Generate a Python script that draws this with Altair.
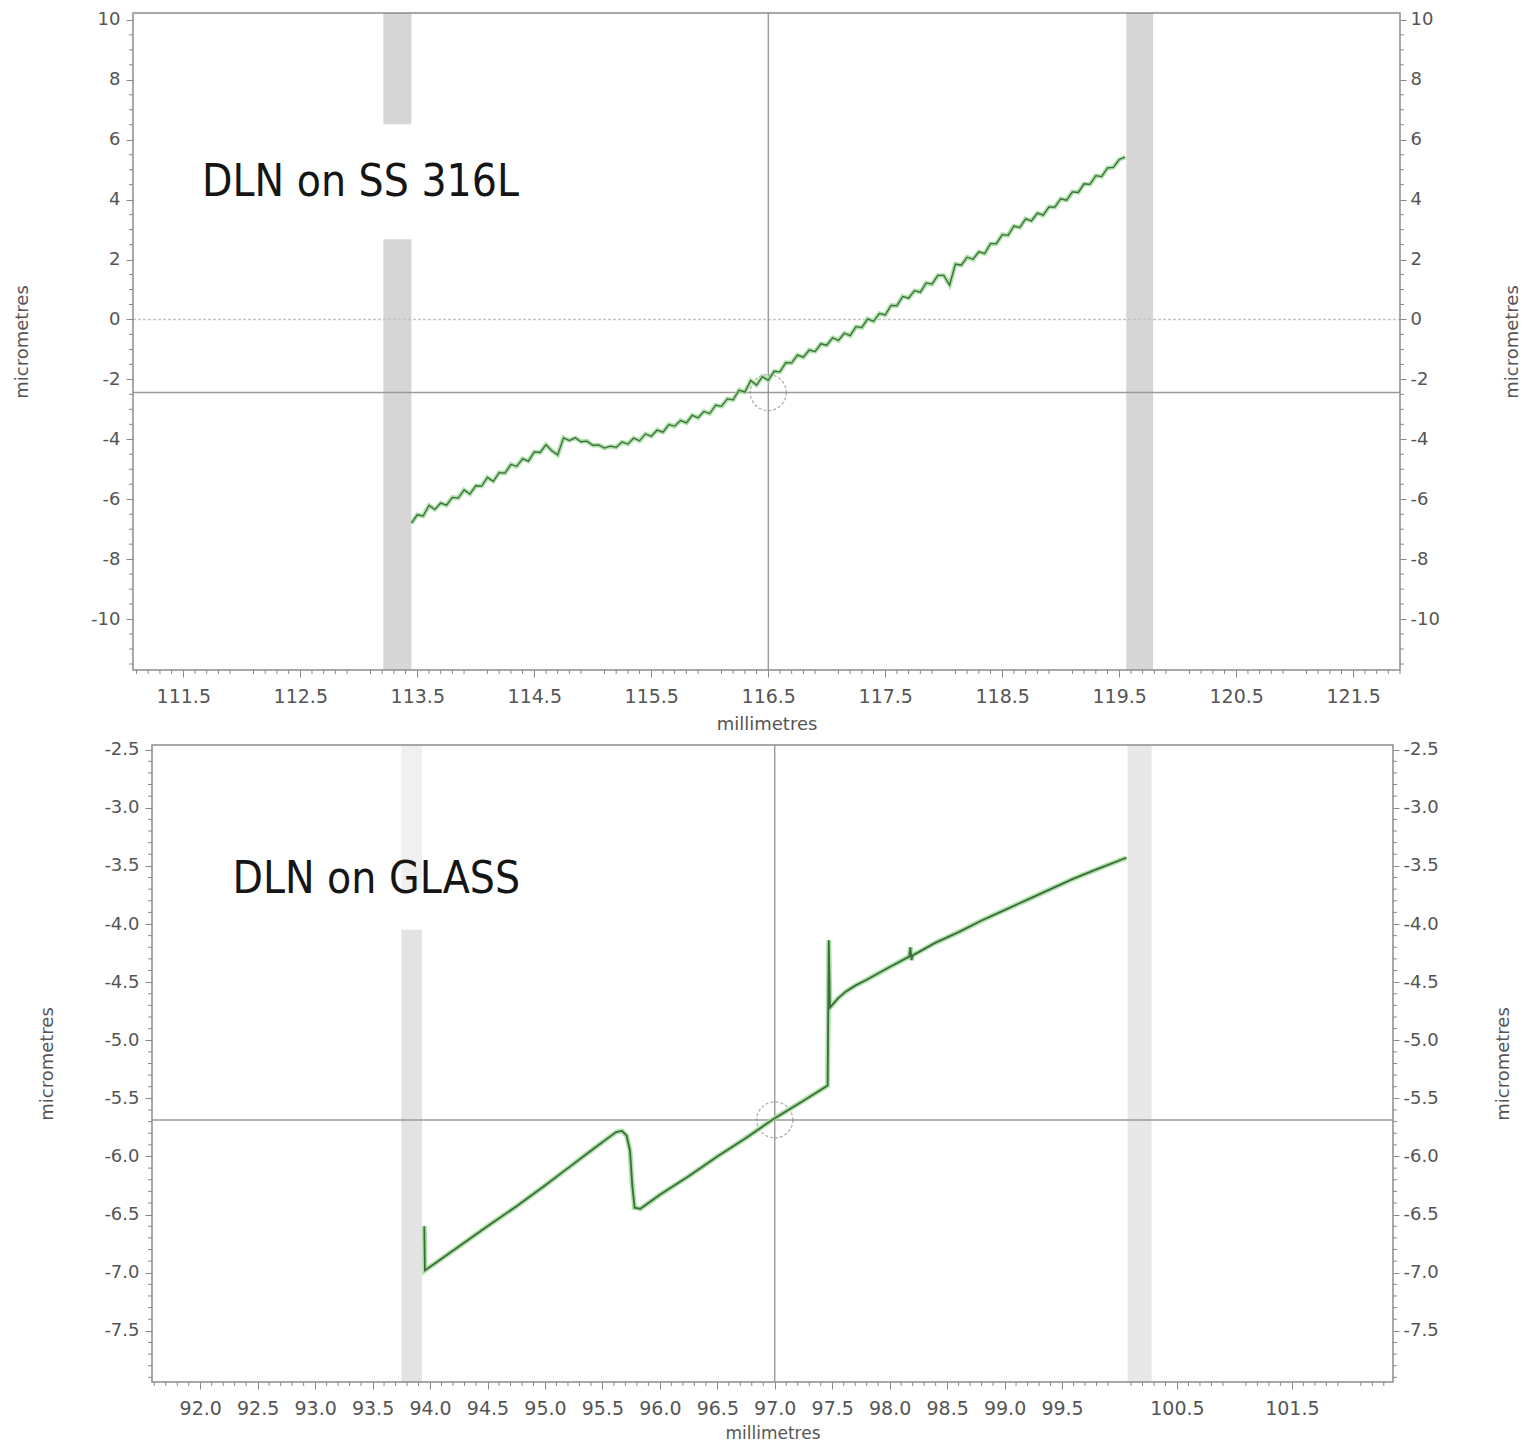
import altair as alt
import pandas as pd
import numpy as np

# ---------------- data ----------------
# Top panel: DLN on SS 316L (profile, micrometres vs millimetres)
TOP_X = [113.45, 113.50, 113.55, 113.60, 113.65, 113.70, 113.75, 113.80, 113.85, 113.90, 113.95,
         114.00, 114.05, 114.10, 114.15, 114.20, 114.25, 114.30, 114.35, 114.40, 114.45,
         114.50, 114.55, 114.60, 114.65, 114.70, 114.75, 114.80, 114.85, 114.90, 114.95,
         115.00, 115.05, 115.10, 115.15, 115.20, 115.25, 115.30, 115.35, 115.40, 115.45,
         115.50, 115.55, 115.60, 115.65, 115.70, 115.75, 115.80, 115.85, 115.90, 115.95,
         116.00, 116.05, 116.10, 116.15, 116.20, 116.25, 116.30, 116.35, 116.40, 116.45,
         116.50, 116.55, 116.60, 116.65, 116.70, 116.75, 116.80, 116.85, 116.90, 116.95,
         117.00, 117.05, 117.10, 117.15, 117.20, 117.25, 117.30, 117.35, 117.40, 117.45,
         117.50, 117.55, 117.60, 117.65, 117.70, 117.75, 117.80, 117.85, 117.90, 117.95,
         118.00, 118.05, 118.10, 118.15, 118.20, 118.25, 118.30, 118.35, 118.40, 118.45,
         118.50, 118.55, 118.60, 118.65, 118.70, 118.75, 118.80, 118.85, 118.90, 118.95,
         119.00, 119.05, 119.10, 119.15, 119.20, 119.25, 119.30, 119.35, 119.40, 119.45,
         119.50, 119.55]
TOP_Y = [-6.80, -6.52, -6.56, -6.21, -6.34, -6.13, -6.20, -5.94, -5.96, -5.69, -5.83,
         -5.55, -5.56, -5.27, -5.40, -5.11, -5.13, -4.84, -4.90, -4.65, -4.73,
         -4.42, -4.44, -4.18, -4.38, -4.52, -3.95, -4.04, -3.95, -4.08, -4.06,
         -4.20, -4.19, -4.29, -4.23, -4.27, -4.09, -4.16, -3.96, -4.05, -3.82,
         -3.90, -3.69, -3.76, -3.51, -3.56, -3.37, -3.45, -3.20, -3.28, -3.07,
         -3.14, -2.86, -2.90, -2.65, -2.68, -2.36, -2.42, -2.04, -2.19, -1.91,
         -2.03, -1.73, -1.75, -1.44, -1.45, -1.19, -1.26, -1.02, -1.07, -0.81,
         -0.86, -0.61, -0.70, -0.46, -0.54, -0.24, -0.27, 0.02, -0.06, 0.20,
         0.15, 0.47, 0.46, 0.77, 0.71, 0.96, 0.91, 1.22, 1.18, 1.47,
         1.47, 1.15, 1.85, 1.81, 2.08, 2.01, 2.26, 2.20, 2.53, 2.53,
         2.83, 2.81, 3.12, 3.07, 3.36, 3.29, 3.55, 3.48, 3.76, 3.75,
         4.03, 3.98, 4.26, 4.24, 4.53, 4.51, 4.80, 4.77, 5.06, 5.08,
         5.34, 5.42]

# Bottom panel: DLN on GLASS
BOT_X = [93.95, 93.955, 94.10, 94.30, 94.50, 94.75, 95.00, 95.20, 95.40, 95.55,
         95.62, 95.67, 95.71, 95.74, 95.76, 95.78, 95.83, 96.00, 96.25, 96.50,
         96.75, 97.00, 97.25, 97.46, 97.47, 97.48, 97.55, 97.62, 97.70, 97.80,
         98.00, 98.17, 98.18, 98.19, 98.20, 98.40, 98.60, 98.80, 99.00, 99.20,
         99.40, 99.60, 99.80, 100.06]
BOT_Y = [-6.60, -6.98, -6.88, -6.74, -6.60, -6.43, -6.25, -6.10, -5.95, -5.84,
         -5.79, -5.78, -5.82, -5.95, -6.25, -6.44, -6.45, -6.33, -6.17, -6.00,
         -5.84, -5.67, -5.52, -5.39, -4.14, -4.72, -4.64, -4.58, -4.53, -4.48,
         -4.37, -4.28, -4.20, -4.31, -4.27, -4.16, -4.07, -3.97, -3.88, -3.79,
         -3.70, -3.61, -3.53, -3.43]

# axis tick labels
TOP_XTICKS = [111.5, 112.5, 113.5, 114.5, 115.5, 116.5, 117.5, 118.5, 119.5, 120.5, 121.5]
TOP_YTICKS = [-10, -8, -6, -4, -2, 0, 2, 4, 6, 8, 10]
BOT_XTICKS = [92.0, 92.5, 93.0, 93.5, 94.0, 94.5, 95.0, 95.5, 96.0, 96.5, 97.0, 97.5,
              98.0, 98.5, 99.0, 99.5, 100.5, 101.5]
BOT_YTICKS = [-7.5, -7.0, -6.5, -6.0, -5.5, -5.0, -4.5, -4.0, -3.5, -3.0, -2.5]

# scale domains (bottom x domain starts left of its frame: its frame is inset)
TOP_XDOM = [111.07, 121.9]
TOP_YDOM = [-11.7, 10.23]
BOT_XDOM = [91.415, 102.38]
BOT_YDOM = [-7.94, -2.46]

# hatched marker bands
TOP_BAND_X0 = [113.21, 113.21, 119.56]
TOP_BAND_X1 = [113.45, 113.45, 119.79]
TOP_BAND_Y0 = [-11.7, 6.52, -11.7]
TOP_BAND_Y1 = [2.68, 10.23, 10.23]
TOP_BAND_SHADE = ["#d6d6d6", "#d6d6d6", "#d6d6d6"]
BOT_BAND_X0 = [93.75, 93.75, 100.07]
BOT_BAND_X1 = [93.93, 93.93, 100.28]
BOT_BAND_Y0 = [-7.94, -3.70, -7.94]
BOT_BAND_Y1 = [-4.05, -2.46, -2.46]
BOT_BAND_SHADE = ["#e3e3e3", "#f0f0f0", "#e8e8e8"]

# cursor crosshair (x, y)
TOP_CROSS = [116.5, -2.44]
BOT_CROSS = [97.0, -5.685]

TOP_LABEL = ["DLN on SS 316L", 111.66, 4.11]
BOT_LABEL = ["DLN on GLASS", 92.28, -3.73]

FONT = "DejaVu Sans"
TITLE_FONT = '"Liberation Sans Narrow", "DejaVu Sans Condensed", "Liberation Sans", sans-serif'
HYPHEN = "replace(datum.label, '\u2212', '-')"


def minor(lo, hi, step, major_step):
    vals = np.round(np.arange(lo, hi + 1e-9, step), 2)
    keep = [v for v in vals if abs(v / major_step - round(v / major_step)) > 1e-6]
    return pd.DataFrame({"v": keep})


def panel(xs, ys, xdom, ydom, W, H, fx0, xticks, yticks, yfmt, bands, cross, label,
          xminor, yminor, left_ext, ltitle_x, rtitle_x, zero,
          xlab_pad, xtitle_pad, xtitle_size, halo_w, core_w, text_size):
    xsc = alt.Scale(domain=xdom, nice=False, zero=False)
    ysc = alt.Scale(domain=ydom, nice=False, zero=False)
    line_df = pd.DataFrame({"x": xs, "y": ys, "i": list(range(len(xs)))})

    x_axis = alt.Axis(values=xticks, format=".1f", title="millimetres",
                      labelFont=FONT, labelFontSize=19, labelColor="#555",
                      titleFont=FONT, titleFontSize=xtitle_size, titleFontWeight="normal",
                      titleColor="#555", titleX=(fx0 + W) / 2,
                      tickColor="#888", tickSize=7, labelPadding=xlab_pad,
                      titlePadding=xtitle_pad, domain=False, grid=False, labelFlush=False,
                      labelOverlap=False, labelBound=False)
    y_axis = alt.Axis(values=yticks, format=yfmt, title="micrometres", orient="left",
                      labelExpr=HYPHEN, offset=-fx0,
                      labelFont=FONT, labelFontSize=18, labelColor="#555",
                      titleFont=FONT, titleFontSize=18, titleFontWeight="normal",
                      titleColor="#555", titleAngle=270, titleBaseline="middle",
                      titleAlign="center", titleX=ltitle_x,
                      tickColor="#888", tickSize=7, labelPadding=6, domain=False,
                      grid=False, labelFlush=False, labelOverlap=False)
    y_axis_r = alt.Axis(values=yticks, format=yfmt, title="micrometres", orient="right",
                        labelExpr=HYPHEN,
                        labelFont=FONT, labelFontSize=18, labelColor="#555",
                        titleFont=FONT, titleFontSize=18, titleFontWeight="normal",
                        titleColor="#555", titleAngle=270, titleBaseline="middle",
                        titleAlign="center", titleX=rtitle_x,
                        tickColor="#888", tickSize=6, labelPadding=4, domain=False,
                        grid=False, labelFlush=False, labelOverlap=False)

    def X(f):
        return alt.X(f, scale=xsc, axis=x_axis)

    def Y(f):
        return alt.Y(f, scale=ysc, axis=y_axis)

    band_df = pd.DataFrame({"x0": bands[0], "x1": bands[1], "y0": bands[2],
                            "y1": bands[3], "shade": bands[4]})
    layers = [alt.Chart(band_df).mark_rect().encode(
        x=X("x0:Q"), x2="x1:Q", y=Y("y0:Q"), y2="y1:Q",
        color=alt.Color("shade:N", scale=None))]

    if zero is not None:
        layers.append(alt.Chart(pd.DataFrame({"v": [zero]})).mark_rule(
            color="#c4c4c4", strokeDash=[3, 2], strokeWidth=1.5).encode(
            y=Y("v:Q"), x=alt.value(fx0), x2=alt.value(W)))

    cdf = pd.DataFrame({"cx": [cross[0]], "cy": [cross[1]]})
    layers.append(alt.Chart(cdf).mark_rule(color="#9a9a9a", strokeWidth=1.5).encode(
        y=Y("cy:Q"), x=alt.value(fx0), x2=alt.value(W)))
    layers.append(alt.Chart(cdf).mark_rule(color="#8a8a8a", strokeWidth=1.2).encode(
        x=X("cx:Q")))
    layers.append(alt.Chart(cdf).mark_point(shape="circle", size=1300, filled=False,
                                            color="#888888", strokeWidth=1.2,
                                            strokeDash=[3, 2]).encode(
        x=X("cx:Q"), y=Y("cy:Q")))

    layers.append(alt.Chart(line_df).mark_line(color="#9edc96", strokeWidth=halo_w,
                                               opacity=0.85).encode(
        x=X("x:Q"), y=Y("y:Q"), order="i:Q"))
    layers.append(alt.Chart(line_df).mark_line(color="#3c6b3c", strokeWidth=core_w).encode(
        x=X("x:Q"), y=Y("y:Q"), order="i:Q"))

    ldf = pd.DataFrame({"t": [label[0]], "lx": [label[1]], "ly": [label[2]]})
    layers.append(alt.Chart(ldf).mark_text(align="left", baseline="alphabetic",
                                           font=TITLE_FONT, fontSize=text_size,
                                           color="#151515").encode(
        x=X("lx:Q"), y=Y("ly:Q"), text="t:N"))

    # frame of the plot area
    layers.append(alt.Chart(pd.DataFrame({"a": [0]})).mark_rect(
        fillOpacity=0, stroke="#8c8c8c", strokeWidth=1.5).encode(
        x=alt.value(fx0), x2=alt.value(W), y=alt.value(0), y2=alt.value(H)))

    # minor ticks
    layers.append(alt.Chart(xminor).mark_rule(color="#888", strokeWidth=1).encode(
        x=X("v:Q"), y=alt.value(H), y2=alt.value(H + 4)))
    layers.append(alt.Chart(yminor).mark_rule(color="#888", strokeWidth=1).encode(
        y=Y("v:Q"), x=alt.value(fx0), x2=alt.value(fx0 - 4)))
    # invisible extent keeper (fixes the left offset of the plot area)
    layers.append(alt.Chart(pd.DataFrame({"a": [0]})).mark_rule(opacity=0).encode(
        x=alt.value(-left_ext), x2=alt.value(-left_ext + 2), y=alt.value(H / 2)))

    inner = alt.layer(*layers)
    right = alt.Chart(yminor).mark_rule(color="#888", strokeWidth=1).encode(
        y=alt.Y("v:Q", scale=ysc, axis=y_axis_r), x=alt.value(W), x2=alt.value(W + 4))
    return alt.layer(inner, right).resolve_scale(y="independent").properties(
        width=W, height=H)


top = panel(TOP_X, TOP_Y, TOP_XDOM, TOP_YDOM, 1267, 657, 0, TOP_XTICKS, TOP_YTICKS, "d",
            [TOP_BAND_X0, TOP_BAND_X1, TOP_BAND_Y0, TOP_BAND_Y1, TOP_BAND_SHADE],
            TOP_CROSS, TOP_LABEL,
            minor(111.1, 121.9, 0.1, 0.5), minor(-11.5, 10.0, 0.5, 2.0),
            120, -111, 112, 0, 10, 9, 18, 4.5, 1.3, 44)
bottom = panel(BOT_X, BOT_Y, BOT_XDOM, BOT_YDOM, 1260, 637, 19, BOT_XTICKS, BOT_YTICKS, ".1f",
               [BOT_BAND_X0, BOT_BAND_X1, BOT_BAND_Y0, BOT_BAND_Y1, BOT_BAND_SHADE],
               BOT_CROSS, BOT_LABEL,
               minor(91.6, 102.3, 0.1, 0.5), minor(-7.9, -2.5, 0.1, 0.5),
               80, -105, 110, None, 10, 7, 17, 5, 1.8, 44)

chart = alt.vconcat(top, bottom, spacing=7).properties(
    padding={"left": 5, "top": 2, "right": 0, "bottom": 0},
    background="white",
).configure_view(strokeWidth=0)

chart.save("out.html", embed_options={"renderer": "svg", "actions": False})
